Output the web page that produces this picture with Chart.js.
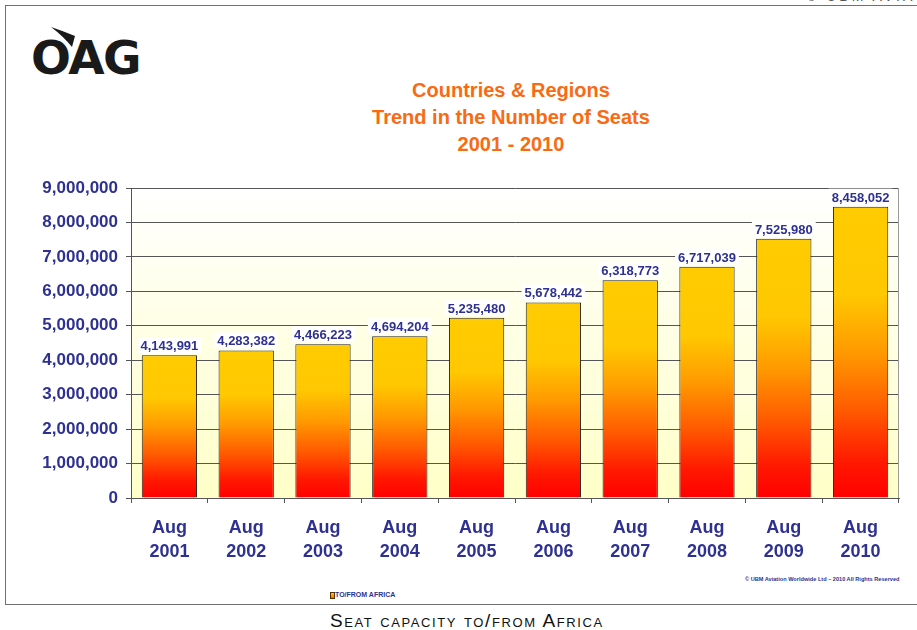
<!DOCTYPE html>
<html><head><meta charset="utf-8">
<script src="https://cdn.jsdelivr.net/npm/chart.js@4.4.1/dist/chart.umd.min.js"></script>
<style>
html,body{margin:0;padding:0;background:#fff;}
#wrap{position:relative;width:917px;height:630px;overflow:hidden;font-family:"Liberation Sans",Arial,sans-serif;}
#c{position:absolute;left:0;top:0;}
.abs{position:absolute;white-space:nowrap;}
</style></head><body>
<div id="wrap">
  <div class="abs" style="left:5px;top:5px;width:920px;height:598px;border-left:1.5px solid #707070;border-top:1.5px solid #707070;border-bottom:1.5px solid #707070;"></div>
  <div class="abs" style="left:806px;top:-12px;font-size:14px;color:#555;letter-spacing:3px;">© UBM AVIA</div>
  <svg class="abs" style="left:0;top:0" width="160" height="90">
    <path d="M51,27 Q63,31 75,36 L72,47 Q63,36 51,27 Z" fill="#1a1a1a"/>
  </svg>
  <div class="abs" style="left:31px;top:32px;font-family:'DejaVu Sans',sans-serif;font-weight:bold;font-size:47px;line-height:52px;color:#1a1a1a;letter-spacing:-1.5px;">OAG</div>
  <div class="abs" style="left:311px;top:77px;width:400px;text-align:center;font-weight:bold;font-size:20px;line-height:27px;color:#F96A12;">Countries &amp; Regions<br>Trend in the Number of Seats<br>2001 - 2010</div>
  <div class="abs" style="left:745px;top:576px;font-weight:bold;font-size:5.6px;color:#2E3192;">© UBM Aviation Worldwide Ltd – 2010 All Rights Reserved</div>
  <div class="abs" style="left:330px;top:592px;width:3px;height:5px;border:0.5px solid #553300;background:linear-gradient(#FFCC00,#FF6600);"></div>
  <div class="abs" style="left:335px;top:590px;font-weight:bold;font-size:7px;line-height:10px;color:#2E3192;">TO/FROM AFRICA</div>
  <div class="abs" style="left:330px;top:609px;font-size:19px;line-height:24px;color:#111;font-variant:small-caps;letter-spacing:1.6px;">Seat capacity to/from Africa</div>
  <canvas id="c" width="917" height="630"></canvas>
</div>
<script>
const month = 'Aug';
const years = ['2001','2002','2003','2004','2005','2006','2007','2008','2009','2010'];
const seats = [4143991, 4283382, 4466223, 4694204, 5235480, 5678442, 6318773, 6717039, 7525980, 8458052];
const seriesName = 'TO/FROM AFRICA';
const yMax = 9000000;
const yStep = 1000000;

const labels = years.map(y => [month, y]);
const navy = '#2E3192';

function barGradient(ctx) {
  const chart = ctx.chart;
  const s = chart.scales && chart.scales.y;
  if (!chart.chartArea || !s || ctx.type !== 'data') return '#FFCC00';
  const top = s.getPixelForValue(ctx.raw);
  const bot = s.getPixelForValue(0);
  if (!isFinite(top) || !isFinite(bot) || bot - top < 1) return '#FFCC00';
  const g = chart.ctx.createLinearGradient(0, top, 0, bot);
  g.addColorStop(0, '#FFCC00');
  g.addColorStop(0.3, '#FFC800');
  g.addColorStop(0.5, '#FF9A00');
  g.addColorStop(0.7, '#FF5A00');
  g.addColorStop(0.88, '#FF1800');
  g.addColorStop(1, '#FF0000');
  return g;
}

const plotBg = {
  id: 'plotBg',
  beforeDraw(chart) {
    const {ctx, chartArea: a} = chart;
    const g = ctx.createLinearGradient(0, a.top, 0, a.bottom);
    g.addColorStop(0, '#FFFFFF');
    g.addColorStop(1, '#FFFFC8');
    ctx.save();
    ctx.fillStyle = g;
    ctx.fillRect(a.left, a.top, a.right - a.left, a.bottom - a.top);
    ctx.restore();
  },
  afterDraw(chart) {
    const {ctx, chartArea: a} = chart;
    ctx.save();
    ctx.strokeStyle = '#9a9a9a';
    ctx.lineWidth = 1;
    ctx.beginPath();
    ctx.moveTo(Math.round(a.right) - 0.5, a.top);
    ctx.lineTo(Math.round(a.right) - 0.5, a.bottom);
    ctx.stroke();
    ctx.restore();
  }
};

const valueLabels = {
  id: 'valueLabels',
  afterDatasetsDraw(chart) {
    const ctx = chart.ctx;
    const meta = chart.getDatasetMeta(0);
    ctx.save();
    ctx.font = 'bold 13px "Liberation Sans", Arial, sans-serif';
    ctx.textAlign = 'center';
    ctx.textBaseline = 'alphabetic';
    meta.data.forEach((bar, i) => {
      const txt = seats[i].toLocaleString('en-US');
      const w = ctx.measureText(txt).width;
      const base = bar.y - 5;
      ctx.fillStyle = '#FFFFFF';
      ctx.fillRect(bar.x - w / 2 - 3, base - 13, w + 6, 16);
      ctx.fillStyle = navy;
      ctx.fillText(txt, bar.x, base);
    });
    ctx.restore();
  }
};

new Chart(document.getElementById('c'), {
  type: 'bar',
  data: {
    labels: labels,
    datasets: [{
      label: seriesName,
      data: seats,
      backgroundColor: barGradient,
      borderColor: '#222222',
      borderWidth: 1,
      borderSkipped: 'bottom',
      categoryPercentage: 1,
      barPercentage: 0.72
    }]
  },
  options: {
    responsive: false,
    animation: false,
    layout: { padding: { left: 40, top: 188, right: 18, bottom: 62 } },
    plugins: {
      legend: { display: false },
      title: { display: false },
      tooltip: { enabled: false }
    },
    scales: {
      x: {
        afterFit(scale) { scale.height = 70; },
        grid: { offset: true, drawOnChartArea: false, drawTicks: true, tickLength: 5, color: '#555555' },
        border: { color: '#555555', width: 1 },
        ticks: {
          padding: 14,
          color: navy,
          maxRotation: 0,
          font: { family: '"Liberation Sans", Arial, sans-serif', size: 18, weight: 'bold', lineHeight: 1.28 }
        }
      },
      y: {
        min: 0,
        max: yMax,
        afterFit(scale) { scale.width = 91; },
        grid: { color: '#555555', lineWidth: 1, tickLength: 5 },
        border: { color: '#555555', width: 1 },
        ticks: {
          stepSize: yStep,
          padding: 8,
          color: navy,
          font: { family: '"Liberation Sans", Arial, sans-serif', size: 17, weight: 'bold' },
          callback: v => v.toLocaleString('en-US')
        }
      }
    }
  },
  plugins: [plotBg, valueLabels]
});
</script>
</body></html>
